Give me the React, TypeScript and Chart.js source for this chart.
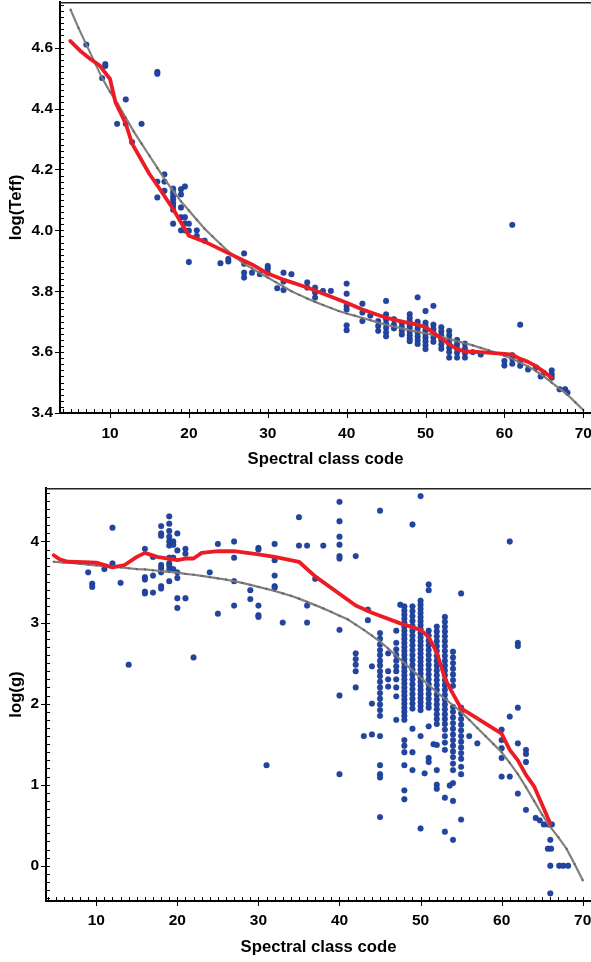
import React, { useEffect, useRef } from 'react';
import { Chart, registerables } from 'chart.js';

Chart.register(...registerables);

type Pt = [number, number];

const FONT = '"Liberation Sans", Arial, Helvetica, sans-serif';

// ---------- Top panel: log(Teff) vs spectral class code ----------
const teffXRange = [3.66, 70.98];
const teffYRange = [3.4, 4.75];
const teffXTickStep = 10;
const teffYTickStep = 0.2;

const teffStars: Pt[] = [
  [7, 4.61], [9, 4.5], [9.4, 4.54], [9.4, 4.546], [12, 4.43], [16, 4.52], [16, 4.514],
  [10.9, 4.35], [12, 4.35], [14, 4.35], [12.8, 4.29], [16.9, 4.184], [16, 4.16], [16.9, 4.16],
  [16.9, 4.13], [16, 4.108],
  [18, 4.137], [18, 4.125], [18, 4.113], [18, 4.102], [18, 4.091], [18, 4.08], [18, 4.068], [18, 4.022],
  [19, 4.135], [19, 4.118], [19, 4.075], [19, 4.043], [19, 4.0],
  [19.5, 4.144], [19.5, 4.043], [19.5, 4.023], [19.5, 4.0],
  [20, 4.022], [20, 3.999], [20, 3.896], [21, 4.0], [21, 3.982], [22, 3.966],
  [24, 3.892], [25, 3.898], [25, 3.906], [27, 3.924], [27, 3.89], [27, 3.861], [27, 3.845],
  [28, 3.861], [29, 3.856], [30, 3.883], [30, 3.875], [30, 3.861], [31.2, 3.81],
  [32, 3.861], [32, 3.832], [32, 3.804], [33, 3.856],
  [35, 3.829], [35, 3.812], [36, 3.812], [36, 3.796], [36, 3.779], [37, 3.801], [38, 3.801],
  [40, 3.825], [40, 3.792], [40, 3.752], [40, 3.74], [40, 3.688], [40, 3.672],
  [42, 3.759], [42, 3.73], [42, 3.702], [43, 3.72], [44, 3.702], [44, 3.686], [44, 3.67],
  [45, 3.768], [45, 3.724], [45, 3.708], [45, 3.694], [45, 3.68], [45, 3.665], [45, 3.652],
  [46, 3.708], [46, 3.69], [46, 3.678],
  [47, 3.697], [47, 3.684], [47, 3.671], [47, 3.658],
  [48, 3.725], [48, 3.712], [48, 3.7], [48, 3.69], [48, 3.68], [48, 3.668], [48, 3.656], [48, 3.645], [48, 3.636],
  [49, 3.78], [49, 3.7], [49, 3.69], [49, 3.678], [49, 3.665], [49, 3.652], [49, 3.64], [49, 3.627],
  [50, 3.735], [50, 3.697], [50, 3.685], [50, 3.672], [50, 3.66], [50, 3.648], [50, 3.636], [50, 3.623], [50, 3.61],
  [51, 3.752], [51, 3.69], [51, 3.676], [51, 3.662], [51, 3.648], [51, 3.634],
  [52, 3.682], [52, 3.668], [52, 3.654], [52, 3.64], [52, 3.625], [52, 3.611],
  [53, 3.67], [53, 3.656], [53, 3.642], [53, 3.628], [53, 3.614], [53, 3.6], [53, 3.582],
  [54, 3.64], [54, 3.626], [54, 3.612], [54, 3.598], [54, 3.582],
  [55, 3.628], [55, 3.612], [55, 3.597], [55, 3.582],
  [56, 3.6], [57, 3.592], [60, 3.571], [60, 3.556],
  [61, 4.018], [61, 3.59], [61, 3.578], [61, 3.562],
  [62, 3.69], [62, 3.57], [62, 3.555],
  [63, 3.543], [64, 3.55], [64.6, 3.52], [65, 3.532], [66, 3.54], [66, 3.527], [66, 3.516],
  [67, 3.478], [67.7, 3.478], [68, 3.467],
];

const teffMeanLine: Pt[] = [
  [4.95, 4.622], [6.2, 4.59], [7.5, 4.563], [8.7, 4.541], [10, 4.497], [10.7, 4.42], [12, 4.35],
  [12.8, 4.285], [15, 4.185], [16.2, 4.14], [18, 4.07], [20, 3.982], [22, 3.963], [25, 3.925],
  [28, 3.888], [30, 3.858], [32, 3.838], [35, 3.812], [40, 3.762], [42, 3.74], [45, 3.713],
  [47, 3.7], [49, 3.69], [50, 3.682], [51, 3.664], [52, 3.645], [53, 3.626], [54, 3.61],
  [55, 3.602], [57, 3.6], [60, 3.594], [61, 3.592], [62, 3.578], [63, 3.568], [64, 3.554],
  [65, 3.535], [66, 3.516],
];

const teffFitLine: Pt[] = [
  [5, 4.725], [6, 4.665], [7, 4.61], [8, 4.555], [9, 4.5], [10, 4.455], [11, 4.415], [12, 4.37],
  [13, 4.325], [14, 4.285], [15, 4.245], [16, 4.205], [17, 4.165], [18, 4.13], [19, 4.095],
  [20, 4.065], [21, 4.035], [22, 4.005], [23, 3.98], [24, 3.955], [25, 3.93], [26, 3.91],
  [27, 3.89], [28, 3.875], [29, 3.86], [30, 3.845], [31, 3.83], [32, 3.815], [33, 3.8],
  [34, 3.788], [35, 3.776], [36, 3.765], [37, 3.755], [38, 3.745], [39, 3.735], [40, 3.727],
  [41, 3.72], [42, 3.712], [43, 3.705], [44, 3.697], [45, 3.69], [46, 3.684], [47, 3.678],
  [48, 3.672], [49, 3.667], [50, 3.662], [51, 3.656], [52, 3.65], [53, 3.643], [54, 3.636],
  [55, 3.629], [56, 3.622], [57, 3.614], [58, 3.606], [59, 3.597], [60, 3.588], [61, 3.578],
  [62, 3.566], [63, 3.553], [64, 3.538], [65, 3.52], [66, 3.5], [67, 3.48], [68, 3.46],
  [69, 3.435], [70, 3.41],
];

// ---------- Bottom panel: log(g) vs spectral class code ----------
const loggXRange = [3.8, 71.02];
const loggYRange = [-0.435, 4.66];
const loggXTickStep = 10;
const loggYTickStep = 1;

const loggStars: Pt[] = [
  [9, 3.62], [9.5, 3.48], [9.5, 3.44], [11, 3.66], [12, 4.17], [12, 3.73], [13, 3.49], [14, 2.48],
  [16, 3.91], [16, 3.56], [16, 3.53], [16, 3.38], [16, 3.36], [17, 3.81], [17, 3.58], [17, 3.37],
  [18, 4.19], [18, 4.1], [18, 4.07], [18, 3.71], [18, 3.67], [18, 3.62], [18, 3.45], [18, 3.42],
  [19, 4.31], [19, 4.22], [19, 4.13], [19, 4.06], [19, 4.0], [19, 3.95], [19, 3.8], [19, 3.73],
  [19, 3.7], [19, 3.65], [19, 3.51],
  [19.5, 4.0], [19.5, 3.96], [19.5, 3.8], [19.5, 3.66],
  [20, 4.1], [20, 3.89], [20, 3.62], [20, 3.55], [20, 3.3], [20, 3.18],
  [21, 3.91], [21, 3.85], [21, 3.3], [22, 2.57], [24, 3.62], [25, 3.97], [25, 3.11],
  [27, 4.0], [27, 3.8], [27, 3.51], [27, 3.21], [29, 3.4], [29, 3.29],
  [30, 3.92], [30, 3.9], [30, 3.21], [30, 3.09], [30, 3.07], [31, 1.24],
  [32, 3.97], [32, 3.77], [32, 3.58], [32, 3.45], [32, 3.43], [33, 3.0],
  [35, 4.3], [35, 3.95], [36, 3.95], [36, 3.21], [36, 3.0], [37, 3.54], [38, 3.95],
  [40, 4.49], [40, 4.25], [40, 4.06], [40, 3.96], [40, 3.82], [40, 3.79], [40, 2.91], [40, 2.1], [40, 1.13],
  [42, 3.82], [42, 2.62], [42, 2.55], [42, 2.48], [42, 2.4], [42, 2.2],
  [43, 1.6], [43.5, 3.16], [43.5, 3.03], [44, 2.46], [44, 2.0], [44, 1.62],
  [45, 4.38], [45, 2.87], [45, 2.8], [45, 2.73], [45, 2.66], [45, 2.6], [45, 2.53], [45, 2.47],
  [45, 2.4], [45, 2.34], [45, 2.27], [45, 2.2], [45, 2.13], [45, 2.06], [45, 1.99], [45, 1.92],
  [45, 1.85], [45, 1.6], [45, 1.24], [45, 1.13], [45, 1.09], [45, 0.6],
  [46, 2.62], [46, 2.4], [46, 2.3], [46, 2.21],
  [47, 2.9], [47, 2.75], [47, 2.67], [47, 2.6], [47, 2.53], [47, 2.46], [47, 2.4], [47, 2.3],
  [47, 2.2], [47, 2.09], [47, 1.8], [47.5, 3.22],
  [48, 3.2], [48, 3.15], [48, 3.1], [48, 3.05], [48, 3.0], [48, 2.95], [48, 2.9], [48, 2.85],
  [48, 2.8], [48, 2.75], [48, 2.7], [48, 2.65], [48, 2.6], [48, 2.55], [48, 2.5], [48, 2.45],
  [48, 2.4], [48, 2.35], [48, 2.3], [48, 2.25], [48, 2.2], [48, 2.15], [48, 2.1], [48, 2.05],
  [48, 2.0], [48, 1.95], [48, 1.9], [48, 1.85], [48, 1.8], [48, 1.55], [48, 1.48], [48, 1.4],
  [48, 1.24], [48, 0.93], [48, 0.82],
  [49, 4.21], [49, 3.2], [49, 3.14], [49, 3.08], [49, 3.02], [49, 2.96], [49, 2.9], [49, 2.84],
  [49, 2.78], [49, 2.72], [49, 2.66], [49, 2.6], [49, 2.54], [49, 2.48], [49, 2.42], [49, 2.36],
  [49, 2.3], [49, 2.24], [49, 2.18], [49, 2.12], [49, 2.06], [49, 2.0], [49, 1.94], [49, 1.69],
  [49, 1.4], [49, 1.18],
  [50, 4.56], [50, 3.27], [50, 3.22], [50, 3.17], [50, 3.12], [50, 3.07], [50, 3.02], [50, 2.97],
  [50, 2.92], [50, 2.87], [50, 2.82], [50, 2.77], [50, 2.72], [50, 2.67], [50, 2.62], [50, 2.57],
  [50, 2.52], [50, 2.47], [50, 2.42], [50, 2.37], [50, 2.32], [50, 2.27], [50, 2.22], [50, 2.17],
  [50, 2.12], [50, 2.07], [50, 2.02], [50, 1.97], [50, 1.92], [50, 1.6], [50, 0.46], [50.5, 1.14],
  [51, 3.47], [51, 3.4], [51, 2.9], [51, 2.84], [51, 2.78], [51, 2.72], [51, 2.66], [51, 2.6],
  [51, 2.54], [51, 2.48], [51, 2.42], [51, 2.36], [51, 2.3], [51, 2.24], [51, 2.18], [51, 2.12],
  [51, 2.06], [51, 2.0], [51, 1.95], [51, 1.72], [51.6, 1.5], [51, 1.33], [51, 1.28],
  [52, 2.95], [52, 2.89], [52, 2.83], [52, 2.77], [52, 2.71], [52, 2.65], [52, 2.59], [52, 2.53],
  [52, 2.47], [52, 2.41], [52, 2.35], [52, 2.29], [52, 2.23], [52, 2.17], [52, 2.11], [52, 2.05],
  [52, 1.99], [52, 1.93], [52, 1.87], [52, 1.81], [52, 1.75], [52, 1.49], [52, 1.18], [52, 1.0], [52, 0.95],
  [53, 3.07], [53, 3.01], [53, 2.95], [53, 2.89], [53, 2.83], [53, 2.77], [53, 2.71], [53, 2.65],
  [53, 2.59], [53, 2.53], [53, 2.47], [53, 2.41], [53, 2.35], [53, 2.29], [53, 2.23], [53, 2.17],
  [53, 2.11], [53, 2.05], [53, 1.99], [53, 1.93], [53, 1.87], [53, 1.81], [53, 1.75], [53, 1.68],
  [53, 1.6], [53, 1.52], [53, 1.43], [53, 0.84], [53, 0.42], [53.6, 0.99],
  [54, 2.64], [54, 2.57], [54, 2.5], [54, 2.43], [54, 2.36], [54, 2.29], [54, 2.22], [54, 1.96],
  [54, 1.9], [54, 1.83], [54, 1.76], [54, 1.69], [54, 1.62], [54, 1.55], [54, 1.48], [54, 1.41],
  [54, 1.34], [54, 1.26], [54, 1.18], [54, 1.02], [54, 0.8], [54, 0.32],
  [55, 3.36], [55, 1.95], [55, 1.88], [55, 1.81], [55, 1.74], [55, 1.67], [55, 1.6], [55, 1.53],
  [55, 1.46], [55, 1.39], [55, 1.32], [55, 1.22], [55, 1.13], [55, 0.57],
  [56, 1.6], [57, 1.51],
  [60, 1.68], [60, 1.55], [60, 1.45], [60, 1.33], [60, 1.1],
  [61, 4.0], [61, 1.84], [61, 1.1],
  [62, 2.75], [62, 2.71], [62, 1.95], [62, 1.51], [62, 0.89],
  [63, 1.43], [63, 1.38], [63, 1.28], [63, 0.69],
  [64.2, 0.59], [64.7, 0.56], [65.2, 0.51], [65.7, 0.51], [66.2, 0.51], [66, 0.32],
  [65.7, 0.21], [66.1, 0.21], [66, 0.0], [67.1, 0.0], [67.6, 0.0], [68.2, 0.0], [66, -0.34],
];

const loggMeanLine: Pt[] = [
  [4.75, 3.83], [5.5, 3.78], [6.5, 3.75], [8.5, 3.745], [10, 3.74], [12, 3.68], [13.5, 3.71],
  [15, 3.81], [16, 3.86], [17.5, 3.81], [20, 3.77], [21, 3.79], [22, 3.79], [23, 3.86],
  [25, 3.88], [27, 3.88], [30, 3.84], [32, 3.81], [35, 3.75], [37, 3.57], [42, 3.21],
  [44, 3.12], [47.5, 2.99], [50, 2.91], [51, 2.82], [52, 2.63], [53, 2.31], [54, 2.12],
  [55, 1.94], [56, 1.88], [60, 1.63], [61, 1.43], [62, 1.3], [63, 1.12], [64, 0.98], [66, 0.52],
];

const loggFitLine: Pt[] = [
  [4.75, 3.75], [6, 3.74], [7, 3.735], [8, 3.725], [9, 3.715], [10, 3.705], [11, 3.695],
  [12, 3.69], [13, 3.68], [14, 3.67], [15, 3.66], [16, 3.655], [17, 3.645], [18, 3.635],
  [19, 3.625], [20, 3.615], [21, 3.6], [22, 3.59], [23, 3.575], [24, 3.56], [25, 3.545],
  [26, 3.53], [27, 3.51], [28, 3.49], [29, 3.465], [30, 3.44], [31, 3.415], [32, 3.39],
  [33, 3.36], [34, 3.33], [35, 3.295], [36, 3.255], [37, 3.215], [38, 3.175], [39, 3.13],
  [40, 3.085], [41, 3.04], [42, 2.975], [43, 2.91], [44, 2.84], [45, 2.765], [46, 2.68],
  [47, 2.59], [48, 2.5], [49, 2.41], [50, 2.32], [51, 2.23], [52, 2.14], [53, 2.06],
  [54, 1.98], [55, 1.9], [56, 1.8], [57, 1.7], [58, 1.6], [59, 1.5], [60, 1.4], [61, 1.27],
  [62, 1.13], [63, 0.97], [64, 0.8], [65, 0.63], [66, 0.48], [67, 0.35], [68, 0.21],
  [69, 0.02], [70, -0.18],
];

const xAxisTitle = 'Spectral class code';
const teffAxisTitle = 'log(Teff)';
const loggAxisTitle = 'log(g)';

// ---------- styling ----------
const DOT_COLOR = 'rgb(33,69,160)';
const MEAN_COLOR = 'rgb(237,28,36)';
const FIT_COLOR = 'rgb(128,128,128)';

const toXY = (pts: Pt[]) => pts.map(([x, y]) => ({ x, y }));

// Draws the frame's top line and the minor / major tick marks from the chart's own scales.
function makeAxisDecor(xMinor: number, xMajor: number, yMinor: number, yMajor: number) {
  return {
    id: 'axisDecor',
    afterDraw(chart: any) {
      const { ctx, chartArea: a, scales } = chart;
      const xs = scales.x;
      const ys = scales.y;
      ctx.save();
      ctx.strokeStyle = '#222';
      ctx.lineWidth = 1.5;
      ctx.beginPath();
      ctx.moveTo(a.left, a.top + 0.75);
      ctx.lineTo(a.right, a.top + 0.75);
      ctx.stroke();

      ctx.strokeStyle = '#000';
      ctx.lineWidth = 1;
      const isMajor = (v: number, step: number) => Math.abs(v / step - Math.round(v / step)) < 1e-6;
      const k0 = Math.ceil(xs.min / xMinor - 1e-9);
      const k1 = Math.floor(xs.max / xMinor + 1e-9);
      for (let k = k0; k <= k1; k++) {
        const v = k * xMinor;
        const px = Math.round(xs.getPixelForValue(v)) + 0.5;
        const maj = isMajor(v, xMajor);
        ctx.beginPath();
        ctx.moveTo(px, a.bottom - 4);
        ctx.lineTo(px, a.bottom + (maj ? 5 : 0));
        ctx.stroke();
      }
      const j0 = Math.ceil(ys.min / yMinor - 1e-9);
      const j1 = Math.floor(ys.max / yMinor + 1e-9);
      for (let j = j0; j <= j1; j++) {
        const v = j * yMinor;
        const py = Math.round(ys.getPixelForValue(v)) + 0.5;
        const maj = isMajor(v, yMajor);
        ctx.beginPath();
        ctx.moveTo(a.left + 4, py);
        ctx.lineTo(a.left - (maj ? 5 : 0), py);
        ctx.stroke();
      }
      ctx.restore();
    },
  };
}

interface PanelProps {
  stars: Pt[];
  mean: Pt[];
  fit: Pt[];
  xRange: number[];
  yRange: number[];
  xStep: number;
  yStep: number;
  yMinor: number;
  yTitle: string;
  yDecimals: number;
  width: number;
  height: number;
  top: number;
  padTop: number;
  axisWidth: number;
  axisHeight: number;
  xTitlePadBottom: number;
  xTickPad: number;
}

function Panel(p: PanelProps) {
  const ref = useRef<HTMLCanvasElement | null>(null);
  useEffect(() => {
    if (!ref.current) return;
    const tickFont = { family: FONT, size: 15.5, weight: 'bold' as const };
    const titleFont = { family: FONT, size: 16.7, weight: 'bold' as const, lineHeight: 1.2 };
    const chart = new Chart(ref.current, {
      type: 'scatter',
      data: {
        datasets: [
          {
            label: 'mean',
            data: toXY(p.mean),
            showLine: true,
            borderColor: MEAN_COLOR,
            borderWidth: 3.8,
            pointRadius: 0,
            tension: 0,
            borderJoinStyle: 'round',
            borderCapStyle: 'round',
            order: 0,
          } as any,
          {
            label: 'fit',
            data: toXY(p.fit),
            showLine: true,
            borderColor: FIT_COLOR,
            borderWidth: 2.2,
            pointRadius: 1.4,
            pointStyle: 'rect',
            pointBackgroundColor: 'rgb(100,100,100)',
            pointBorderWidth: 0,
            tension: 0,
            order: 1,
          } as any,
          {
            label: 'stars',
            data: toXY(p.stars),
            pointRadius: 2.9,
            pointBackgroundColor: DOT_COLOR,
            pointBorderColor: 'rgba(20,45,120,0.5)',
            pointBorderWidth: 0.5,
            order: 2,
          } as any,
        ],
      },
      options: {
        animation: false,
        responsive: false,
        devicePixelRatio: 1,
        events: [],
        layout: { autoPadding: false, padding: { top: p.padTop, left: 0, right: 0, bottom: 0 } },
        plugins: {
          legend: { display: false },
          tooltip: { enabled: false },
        },
        scales: {
          x: {
            type: 'linear',
            min: p.xRange[0],
            max: p.xRange[1],
            border: { display: true, color: '#000', width: 2 },
            grid: { display: true, drawOnChartArea: false, drawTicks: false },
            ticks: {
              stepSize: p.xStep,
              includeBounds: false,
              autoSkip: false,
              maxRotation: 0,
              padding: p.xTickPad,
              color: '#000',
              font: tickFont,
              callback: (v: any) => String(Math.round(Number(v))),
            },
            title: {
              display: true,
              text: xAxisTitle,
              color: '#000',
              font: titleFont,
              padding: { top: 0, bottom: p.xTitlePadBottom },
            },
            afterFit: (s: any) => {
              s.height = p.axisHeight;
              s.paddingLeft = 0;
              s.paddingRight = 0;
            },
          },
          y: {
            type: 'linear',
            min: p.yRange[0],
            max: p.yRange[1],
            border: { display: true, color: '#000', width: 2 },
            grid: { display: true, drawOnChartArea: false, drawTicks: false },
            ticks: {
              stepSize: p.yStep,
              includeBounds: false,
              autoSkip: false,
              padding: 7,
              color: '#000',
              font: tickFont,
              callback: (v: any) => Number(v).toFixed(p.yDecimals),
            },
            title: {
              display: true,
              text: p.yTitle,
              color: '#000',
              font: titleFont,
              padding: { top: 6, bottom: 0 },
            },
            afterFit: (s: any) => {
              s.width = p.axisWidth;
              s.paddingTop = 0;
              s.paddingBottom = 0;
            },
          },
        },
      },
      plugins: [makeAxisDecor(1, p.xStep, p.yMinor, p.yStep)],
    });
    return () => chart.destroy();
  }, []);
  return (
    <canvas
      ref={ref}
      width={p.width}
      height={p.height}
      style={{ position: 'absolute', left: 0, top: p.top, width: p.width, height: p.height }}
    />
  );
}

export default function App() {
  return (
    <div style={{ position: 'absolute', left: 0, top: 0, width: 591, height: 962, background: '#fff', overflow: 'hidden' }}>
      <Panel
        stars={teffStars}
        mean={teffMeanLine}
        fit={teffFitLine}
        xRange={teffXRange}
        yRange={teffYRange}
        xStep={teffXTickStep}
        yStep={teffYTickStep}
        yMinor={0.02}
        yTitle={teffAxisTitle}
        yDecimals={1}
        width={591}
        height={470}
        top={0}
        padTop={2}
        axisWidth={60}
        axisHeight={57}
        xTitlePadBottom={1}
        xTickPad={11}
      />
      <Panel
        stars={loggStars}
        mean={loggMeanLine}
        fit={loggFitLine}
        xRange={loggXRange}
        yRange={loggYRange}
        xStep={loggXTickStep}
        yStep={loggYTickStep}
        yMinor={0.1}
        yTitle={loggAxisTitle}
        yDecimals={0}
        width={591}
        height={492}
        top={470}
        padTop={18}
        axisWidth={46}
        axisHeight={61}
        xTitlePadBottom={4.5}
        xTickPad={10}
      />
    </div>
  );
}
